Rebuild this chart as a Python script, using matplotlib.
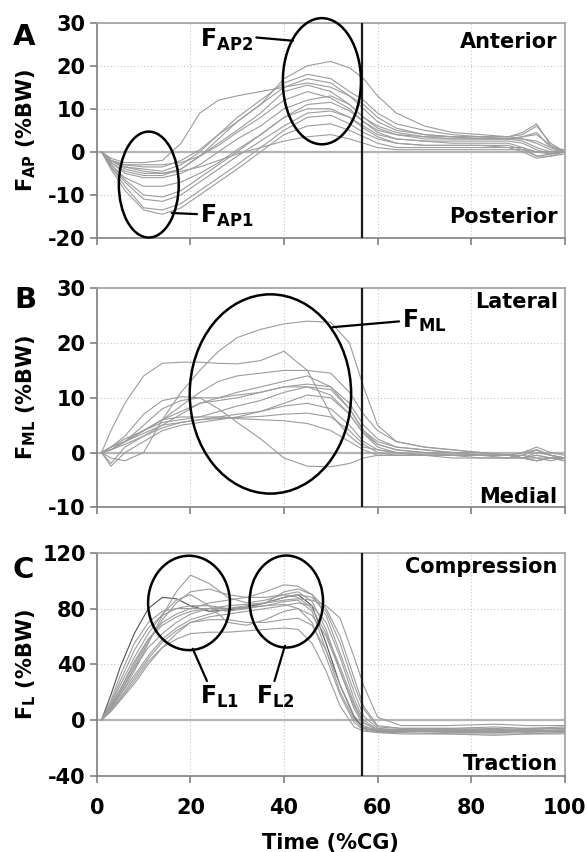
import matplotlib.pyplot as plt
from matplotlib.patches import Ellipse

plt.rcParams['font.family'] = 'DejaVu Sans'
plt.rcParams['font.weight'] = 'bold'
plt.rcParams['mathtext.fontset'] = 'dejavusans'
plt.rcParams['mathtext.default'] = 'bf'
plt.rcParams['axes.unicode_minus'] = False

# ---------------- data (% gait cycle, %BW) ---------------- #
t_ap = [1, 3, 6, 10, 14, 18, 22, 26, 30, 35, 40, 45, 50, 54, 57, 60, 64, 70, 76, 82, 88, 91, 94, 97, 100]
f_ap = [
    [0, -1.5, -2.5, -2.5, -2, 2, 9, 12, 13, 14, 15, 16, 15, 13, 11, 8, 5.5, 4, 3.5, 3, 3, 3, 2.5, 1, 0],
    [0, -2, -4, -5, -5, -4, -1, 3, 7, 11, 17, 20, 21, 19.5, 17, 13, 9, 6, 4.5, 4, 3.5, 4, 6, 2, 0],
    [0, -2, -3.5, -4, -4.5, -3, 0, 4, 7, 11, 15, 17, 16, 13, 10, 7, 5, 4, 3.5, 3.5, 3.5, 4.5, 6.5, 1.5, 0],
    [0, -2.5, -4.5, -5.5, -5.5, -4, -1, 2, 5, 9, 14, 15.5, 14, 11, 8, 6, 4.5, 3.5, 3.5, 3.5, 3.5, 3, 2, 0.5, 0],
    [0, -2, -3, -3, -3, -2.5, -1, 1.5, 4.5, 8, 12, 14, 12.5, 10, 7, 5, 4, 3.5, 3, 3, 3, 3.5, 4.5, 1, 0.5],
    [0, -2.5, -5, -6, -6, -5, -3, 0, 3, 6, 10, 12, 13, 11, 8, 5.5, 4, 3, 3, 3, 3, 2.5, 1, 0, 0],
    [0, -3, -6, -8, -8, -7, -5, -2.5, 0.5, 4, 8, 11, 11.5, 9.5, 7, 4.5, 3, 2.5, 2.5, 2.5, 2.5, 2, 0.5, -0.5, 0],
    [0, -3, -6.5, -10, -10.5, -9, -6, -3, 0, 4, 8, 10, 10, 8, 6, 4, 3, 2.5, 2, 2, 2, 1, -1, -1, -0.5],
    [0, -3.5, -7, -11, -11.5, -10, -7, -4, -1, 2.5, 6, 9, 9.5, 8, 5.5, 3.5, 2, 1.5, 1.5, 1.5, 1.5, 0.5, -1, -0.5, 0],
    [0, -3.5, -8, -13, -13.5, -12, -9, -6, -3, 1, 5, 8, 8.5, 6.5, 4.5, 3, 2, 1.5, 1.5, 1.5, 1, 0, -1.5, -1, 0],
    [0, -4, -9, -13.5, -14.5, -13, -10, -7, -4, 0, 4, 6, 6.5, 5, 3.5, 2, 1, 1, 1, 1, 1, 1, 0, 0, 0],
    [0, -2, -3.5, -4.5, -5, -4.5, -3.5, -2, -0.5, 1, 2.5, 3.5, 4, 3, 2, 1, 0.5, 0.5, 0.5, 0.5, 0.5, 0.5, 0, -0.5, 0],
    [0, -2, -3, -3.5, -3.5, -2, 0.5, 4, 8, 12, 16, 18, 17, 14, 12, 9, 6.5, 5, 4, 3.5, 3, 3.5, 4, 1.5, 0],
]

t_ml = t_ap
f_ml = [
    [0, -1, -1.5, 0, 6, 11, 15, 18.5, 21, 22.5, 23.5, 24, 23.8, 20, 12, 5, 2, 1, 0.5, 0, -0.5, -0.5, 0.5, -0.5, -1],
    [0, 4, 9, 14, 16.3, 16.5, 16.5, 16.3, 16.2, 16.8, 18.5, 15, 7, 3, 1, 0.5, 0, -0.5, -0.5, -0.5, -0.5, -1, -0.5, -1, -1],
    [0, 1, 2, 4, 6, 8.5, 11, 13, 14, 14.5, 15, 15, 14.5, 11, 7, 4, 2, 1, 0.5, 0, -0.5, 0, 1, 0, -0.5],
    [0, 1, 3, 7, 9.5, 10.2, 10, 8, 5.5, 2.5, -1, -2.5, -2.6, -2, -1, -0.5, -0.5, -0.5, -0.5, -0.5, -0.5, -1, -1.5, -1, -1],
    [0, -2, 1, 3, 5, 7, 9, 10, 11, 12, 13, 14, 12, 8, 4, 2, 1, 0.5, 0, 0, -0.5, -0.5, 0.5, -0.5, -1],
    [0, 0.5, 2, 4, 6, 7.5, 9, 9.5, 10, 11, 12, 12.5, 12, 9, 5, 2.5, 1, 0.5, 0, -0.5, -0.5, -1, -1.5, -1, -1.5],
    [0, 1, 2.5, 4, 5.5, 6, 6.5, 7.5, 8.5, 9.5, 11, 12, 11.5, 8, 4, 1.5, 0.5, 0, -0.5, -0.5, -0.5, 0, 0.5, -0.5, -1],
    [0, -2.5, 0, 2, 4, 5, 5.5, 6, 6.5, 7.5, 9, 10.5, 10, 7, 3.5, 1, 0, -0.5, -0.5, -0.5, -0.5, -1, -1, -1.5, -1],
    [0, 0.5, 1.5, 3, 4.5, 5.5, 6, 6.5, 7, 7.5, 8.5, 9, 8, 5, 2, 0.5, 0, -0.5, -0.5, -1, -1, -0.5, -1, -1, -1.5],
    [0, 1, 2, 3.5, 5, 5.5, 6, 6.2, 6.4, 6.6, 7, 7.2, 6.5, 4, 1.5, 0, -0.5, -0.5, -0.5, -0.5, -1, -1, -0.5, -1, -1],
    [0, 0.5, 2, 4, 6, 6.5, 6.5, 6.5, 6.2, 6, 5.8, 5.3, 4, 2, 0.5, -0.5, -0.5, -0.5, -1, -1, -1, -1, -1.5, -1, -1],
    [0, 0.5, 2, 5, 8, 9.5, 10, 10, 10.5, 11, 12, 12, 10.5, 7, 3.5, 1.5, 0.5, 0, 0, -0.5, -0.5, -1, 0, -0.5, -1],
]

t_l = [1, 3, 5, 8, 11, 14, 17, 20, 24, 28, 32, 36, 40, 43, 46, 49, 52, 55, 57, 60, 65, 75, 85, 92, 100]
f_l = [
    [0, 18, 38, 62, 80, 88, 87, 82, 78, 79, 81, 84, 88, 90, 82, 55, 25, 2, -6, -8, -8, -8, -9, -8, -8],
    [0, 8, 18, 35, 55, 75, 92, 104, 98, 88, 84, 86, 90, 92, 85, 65, 35, 10, -2, -7, -7, -8, -7, -8, -7],
    [0, 7, 15, 28, 42, 52, 58, 62, 63, 63, 64, 65, 66, 65, 55, 35, 10, -5, -8, -9, -9, -10, -10, -10, -9],
    [0, 10, 22, 40, 58, 70, 76, 80, 84, 86, 88, 92, 97, 96, 90, 75, 48, 20, 3, -6, -7, -7, -6, -7, -6],
    [0, 9, 20, 37, 52, 62, 70, 76, 80, 82, 83, 84, 86, 87, 86, 82, 73, 45, 25, 2, -4, -4, -3, -4, -4],
    [0, 12, 28, 50, 66, 75, 80, 82, 82, 80, 80, 82, 85, 86, 78, 50, 20, 0, -6, -8, -8, -8, -8, -9, -8],
    [0, 8, 18, 32, 46, 58, 66, 72, 76, 80, 82, 84, 88, 90, 88, 78, 55, 25, 8, -5, -6, -6, -5, -6, -5],
    [0, 10, 22, 42, 58, 68, 74, 78, 80, 80, 81, 82, 83, 80, 70, 45, 18, -2, -7, -9, -10, -10, -11, -10, -10],
    [0, 6, 14, 26, 40, 52, 62, 70, 74, 76, 78, 80, 82, 84, 82, 70, 45, 15, 0, -7, -8, -8, -8, -7, -8],
    [0, 11, 25, 45, 62, 76, 86, 90, 82, 70, 68, 72, 78, 80, 75, 60, 35, 8, -4, -8, -8, -9, -9, -8, -9],
    [0, 14, 32, 55, 70, 78, 80, 80, 80, 78, 80, 84, 92, 94, 90, 80, 60, 30, 10, -4, -6, -6, -7, -6, -6],
    [0, 7, 16, 30, 44, 56, 64, 70, 72, 72, 70, 70, 72, 73, 68, 50, 25, 3, -5, -7, -7, -7, -7, -8, -7],
    [0, 9, 20, 38, 56, 72, 84, 92, 94, 90, 88, 88, 90, 88, 80, 62, 38, 12, -2, -7, -8, -8, -8, -8, -8],
]

toe_off = 56.6
# ----------------------------------------------------------- #

fig = plt.figure(figsize=(5.87, 8.52), dpi=100)
axA = fig.add_axes([0.165, 0.7207, 0.797, 0.2527])
axB = fig.add_axes([0.165, 0.4046, 0.797, 0.2570])
axC = fig.add_axes([0.165, 0.0895, 0.797, 0.2617])

panels = [
    (axA, t_ap, f_ap, (-20, 30), range(-20, 31, 10), r'F$_{AP}$ (%BW)', 'Anterior', 'Posterior', 0.8825, 0.07),
    (axB, t_ml, f_ml, (-10, 30), range(-10, 31, 10), r'F$_{ML}$ (%BW)', 'Lateral', 'Medial', 0.91, 0.02),
    (axC, t_l, f_l, (-40, 120), range(-40, 121, 40), r'F$_{L}$ (%BW)', 'Compression', 'Traction', 0.909, 0.026),
]

for ax, t, curves, ylim, yticks, ylab, top_txt, bot_txt, ytop, ybot in panels:
    ax.set_xlim(0, 100)
    ax.set_ylim(*ylim)
    ax.set_xticks(range(0, 101, 20))
    ax.set_yticks(list(yticks))
    ax.grid(True, color='#c8c8c8', linestyle=(0, (1, 2)), linewidth=0.8)
    ax.set_axisbelow(True)
    ax.axhline(0, color='#b4b4b4', lw=1.6, zorder=1)
    for i, f in enumerate(curves):
        c = '#505050' if (ax is axC and i == 0) else '#9c9c9c'
        ax.plot(t, f, color=c, lw=0.8, zorder=2)
    ax.axvline(toe_off, color='#1a1a1a', lw=1.6, zorder=4)
    for s in ax.spines.values():
        s.set_color('#a0a0a0')
        s.set_linewidth(1.2)
    ax.spines['left'].set_color('#808080')
    ax.spines['bottom'].set_color('#808080')
    ax.tick_params(direction='out', length=5, width=1.2, color='#808080',
                   labelsize=15, pad=3)
    ax.set_ylabel(ylab, fontsize=15, fontweight='bold')
    ax.yaxis.set_label_coords(-0.125, 0.5)
    ax.text(0.985, ytop, top_txt, transform=ax.transAxes, ha='right', va='baseline', fontsize=15)
    ax.text(0.985, ybot, bot_txt, transform=ax.transAxes, ha='right', va='baseline', fontsize=15)

axA.tick_params(axis='x', labelbottom=False)
axB.tick_params(axis='x', labelbottom=False)
axC.tick_params(axis='x', pad=11)
axC.set_xlabel('Time (%CG)', fontsize=15, fontweight='bold')
axC.xaxis.set_label_coords(0.5, -0.255)

# highlighted regions
ell_kw = dict(fill=False, edgecolor='black', lw=1.8, zorder=5, clip_on=False)
axA.add_patch(Ellipse((11.1, -7.6), 12.8, 24.6, **ell_kw))
axA.add_patch(Ellipse((48.1, 16.4), 16.7, 29.3, **ell_kw))
axB.add_patch(Ellipse((37.1, 10.7), 34.5, 36.4, **ell_kw))
axC.add_patch(Ellipse((19.7, 84), 17.5, 67.7, **ell_kw))
axC.add_patch(Ellipse((40.5, 85), 15.7, 66, **ell_kw))

def label(ax, txt, xy, xytext, ha, va, relpos):
    ax.annotate(txt, xy=xy, xytext=xytext, ha=ha, va=va, fontsize=17, zorder=6,
                arrowprops=dict(arrowstyle='-', color='black', lw=1.6,
                                shrinkA=0, shrinkB=0, relpos=relpos))

label(axA, r'F$_{AP2}$', (41.9, 25.8), (33.5, 26), 'right', 'center', (1, 0.6))
label(axA, r'F$_{AP1}$', (16.0, -14.2), (22.0, -14.8), 'left', 'center', (0, 0.55))
label(axB, r'F$_{ML}$', (50.4, 22.9), (65.2, 24), 'left', 'center', (0, 0.5))
label(axC, r'F$_{L1}$', (20.5, 51.1), (26.3, 26), 'center', 'top', (0.2, 1))
label(axC, r'F$_{L2}$', (40.2, 53.3), (38.2, 26), 'center', 'top', (0.45, 1))

fig.text(0.022, 0.947, 'A', fontsize=21, fontweight='bold')
fig.text(0.025, 0.6385, 'B', fontsize=21, fontweight='bold')
fig.text(0.022, 0.3216, 'C', fontsize=21, fontweight='bold')

fig.savefig('out.png', dpi=100)
